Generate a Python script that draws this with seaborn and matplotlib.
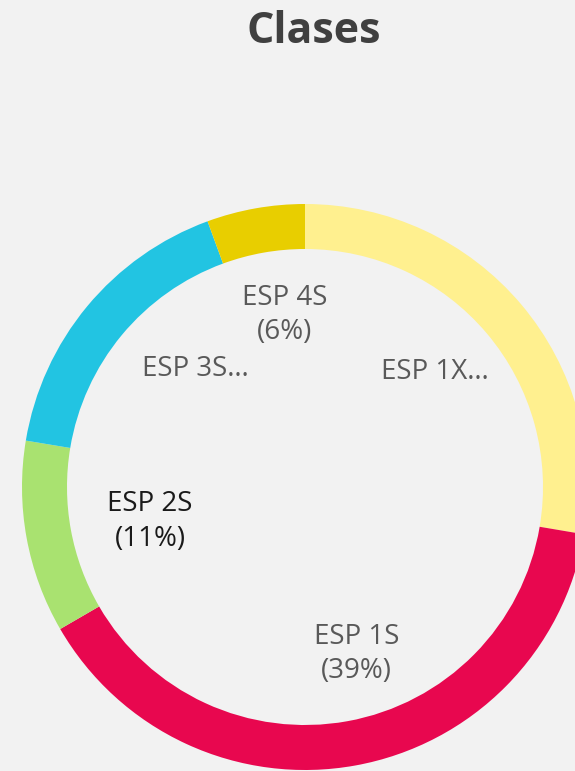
import numpy as np
import seaborn as sns
import matplotlib.pyplot as plt

clases = ["ESP 1X", "ESP 1S", "ESP 2S", "ESP 3S", "ESP 4S"]
porcentajes = [27.7, 39.0, 11.0, 16.8, 5.6]
etiqueta_completa = [False, True, True, False, True]
colores = ["#FFF08F", "#E8074F", "#A9E270", "#22C4E2", "#E8CE00"]
colores_texto = ["#595959", "#595959", "#1A1A1A", "#595959", "#595959"]

sns.set_style("white")
plt.rcParams["font.family"] = ["Open Sans", "DejaVu Sans"]

fondo = "#F2F2F2"
fig = plt.figure(figsize=(5.75, 7.71), dpi=100, facecolor=fondo)
ax = fig.add_axes([0, 0, 1, 1])
ax.set_facecolor(fondo)

radio = 283
centro = (305, 771 - 487)
wedges, _ = ax.pie(porcentajes, colors=colores, startangle=90, counterclock=False,
                   radius=radio, center=centro,
                   wedgeprops=dict(width=45, edgecolor="none"))

# posicion de etiquetas: fraccion del radio y ajuste de angulo (grados)
dist_etiqueta = [0.612, 0.617, 0.561, 0.569, 0.612]
ajuste_angulo = [-1.4, -6.8, -2.3, 7.6, 3.4]

for i, w in enumerate(wedges):
    mid = (w.theta1 + w.theta2) / 2 - ajuste_angulo[i]
    r = radio * dist_etiqueta[i]
    x = centro[0] + r * np.cos(np.deg2rad(mid))
    y = centro[1] + r * np.sin(np.deg2rad(mid))
    if etiqueta_completa[i]:
        txt = f"{clases[i]}\n({round(porcentajes[i])}%)"
    else:
        txt = f"{clases[i]}…"
    ax.text(x, y, txt, ha="center", va="center", fontsize=20,
            color=colores_texto[i], linespacing=1.32)

ax.set_xlim(0, 575)
ax.set_ylim(0, 771)
ax.axis("off")

fig.text(314 / 575, 1 - 43 / 771, "Clases", ha="center", va="baseline",
         fontsize=31, fontweight="bold", color="#404040")

fig.savefig("out.png", dpi=100, facecolor=fondo)
